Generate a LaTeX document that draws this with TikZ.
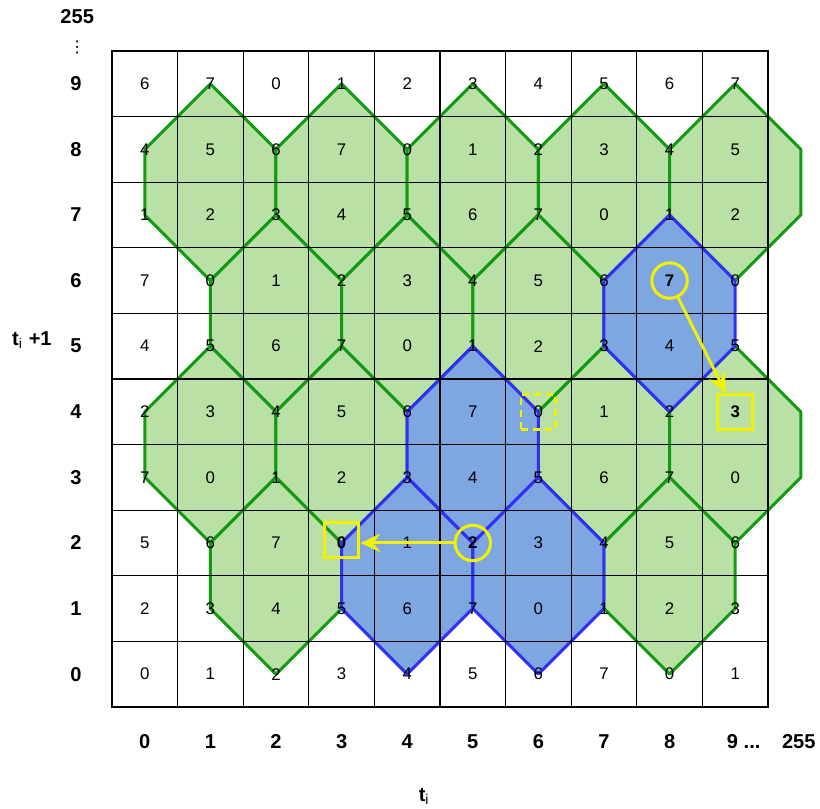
\documentclass[tikz,border=0pt]{standalone}
\usepackage{fontspec}
\setmainfont{Liberation Sans}
\newfontfamily\symfont{DejaVu Sans}
\usetikzlibrary{arrows.meta}
\definecolor{hexgreen}{HTML}{B9E0A5}
\definecolor{greenline}{HTML}{139A13}
\definecolor{hexblue}{HTML}{7EA6E0}
\definecolor{blueline}{HTML}{2F2FF5}
\definecolor{hilite}{HTML}{F2F200}
\tikzset{
  cell/.style={draw=black,line width=0.5pt,minimum size=1cm,inner sep=0pt,font=\fontsize{7.3}{9}\selectfont},
  greenhex/.style={fill=hexgreen,draw=greenline,line width=1.3pt,line join=round},
  bluehex/.style={fill=hexblue,draw=blueline,line width=1.3pt,line join=round},
  axlbl/.style={font=\fontsize{8.7}{10}\bfseries,inner sep=0pt},
  pickmark/.style={circle,draw=hilite,line width=1.3pt,minimum size=0.54cm,inner sep=0pt},
  goalmark/.style={rectangle,draw=hilite,line width=1.3pt,minimum size=0.53cm,inner sep=0pt},
  yarrow/.style={draw=hilite,line width=1.3pt,-{Stealth[length=3mm,width=2.8mm,inset=1mm]}},
}

\begin{document}
\begin{tikzpicture}[x=1cm,y=1cm]
  \useasboundingbox (-1.707,-1.555) rectangle (10.793,10.777);
  % hexagons (centre between the two middle cells)
  \foreach \hx/\hy in {1.5/8,3.5/8,5.5/8,7.5/8,9.5/8,2.5/6,4.5/6,6.5/6,1.5/4,3.5/4,7.5/4,9.5/4,2.5/2,8.5/2}
    \filldraw[greenhex] (\hx,\hy+1.5) -- ++(-1,-1) -- ++(0,-1) -- ++(1,-1) -- ++(1,1) -- ++(0,1) -- cycle;
  \foreach \hx/\hy in {8.5/6,5.5/4,4.5/2,6.5/2}
    \filldraw[bluehex] (\hx,\hy+1.5) -- ++(-1,-1) -- ++(0,-1) -- ++(1,-1) -- ++(1,1) -- ++(0,1) -- cycle;
  % grid of cells
  \foreach \r/\vals in {9/{6,7,0,1,2,3,4,5,6,7},
                        8/{4,5,6,7,0,1,2,3,4,5},
                        7/{1,2,3,4,5,6,7,0,1,2},
                        6/{7,0,1,2,3,4,5,6,\textbf{7},0},
                        5/{4,5,6,7,0,1,2,3,4,5},
                        4/{2,3,4,5,6,7,0,1,2,\textbf{3}},
                        3/{7,0,1,2,3,4,5,6,7,0},
                        2/{5,6,7,\textbf{0},1,\textbf{2},3,4,5,6},
                        1/{2,3,4,5,6,7,0,1,2,3},
                        0/{0,1,2,3,4,5,6,7,0,1}}
    \foreach \v [count=\c from 0] in \vals
      \node[cell] (c\c-\r) at (\c+0.5,\r+0.5) {\v};
  % axes
  \foreach \r in {0,...,9}
    \node[axlbl] (y\r) at (-0.55,\r+0.5) {\r};
  \node[axlbl] (ymax) at (-0.53,10.52) {255};
  \node[inner sep=0pt,font=\symfont\fontsize{7}{8}\selectfont] (ydots) at (-0.53,10.05) {⋮};
  \node[axlbl] (ylab) at (-1.22,5.59) {t\textsubscript{\mdseries i} +1};
  \foreach \c in {0,...,8}
    \node[axlbl] (x\c) at (\c+0.5,-0.53) {\c};
  \node[axlbl] (x9) at (9.63,-0.53) {9 ...};
  \node[axlbl] (xmax) at (10.47,-0.53) {255};
  \node[axlbl] (xlab) at (4.76,-1.37) {t\textsubscript{\mdseries i}};
  % moves
  \node[pickmark] (src1) at (c8-6) {};
  \node[goalmark] (dst1) at (c9-4) {};
  \node[pickmark] (src2) at (c5-2) {};
  \node[goalmark] (dst2) at ([yshift=0.05cm]c3-2) {};
  \node[goalmark,dash pattern=on 3.2pt off 2pt] (alt) at (c6-4) {};
  \draw[yarrow] (src1) -- (dst1);
  \draw[yarrow] (src2) -- (src2 -| dst2.east);
\end{tikzpicture}
\end{document}
